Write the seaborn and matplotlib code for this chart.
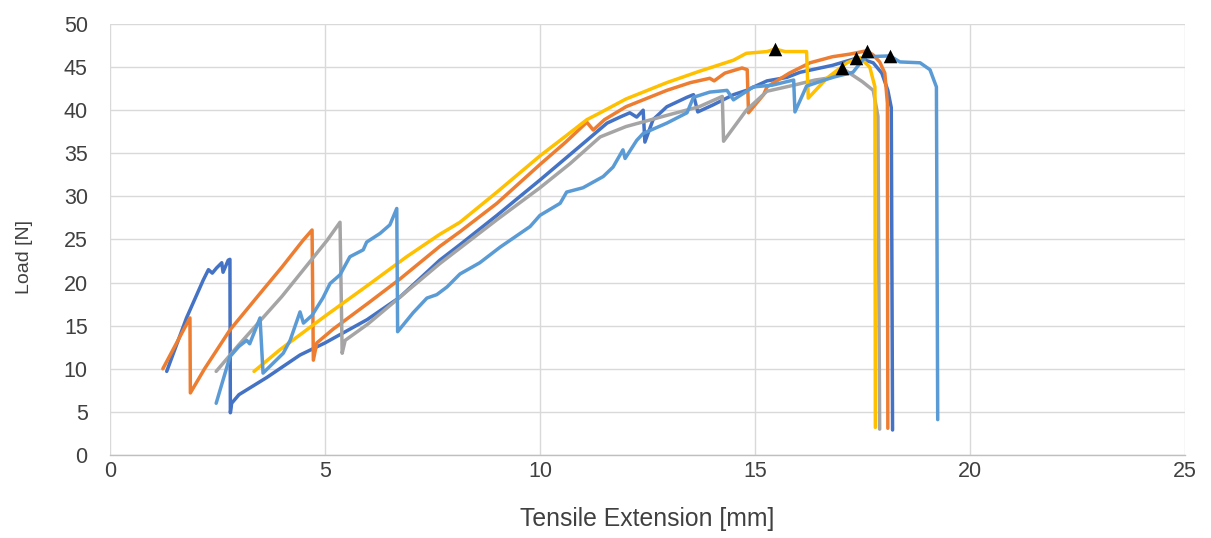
import numpy as np
import pandas as pd
import matplotlib
matplotlib.use("Agg")
import matplotlib.pyplot as plt
import seaborn as sns

# Load-extension curves of five tensile specimens
ext_1 = [1.32, 1.78, 2.17, 2.29, 2.38, 2.48, 2.60, 2.63, 2.75, 2.79, 2.80, 2.83, 3.00, 3.65, 4.42,
         5.00, 5.98, 6.74, 7.67, 8.14, 9.00, 10.00, 11.09, 11.56, 11.86, 12.09, 12.25, 12.40,
         12.44, 12.63, 12.95, 13.42, 13.57, 13.67, 14.02, 14.50, 14.80, 15.28, 15.74, 16.05,
         16.80, 17.34, 17.50, 17.75, 17.95, 18.09, 18.17, 18.20]
load_1 = [9.7, 15.9, 20.3, 21.5, 21.1, 21.7, 22.3, 21.2, 22.6, 22.7, 4.9, 6.0, 7.0, 9.0, 11.6,
          13.0, 15.7, 18.3, 22.6, 24.4, 27.8, 31.9, 36.5, 38.5, 39.2, 39.7, 39.2, 40.0,
          36.3, 38.9, 40.4, 41.5, 41.8, 39.8, 40.6, 41.8, 42.3, 43.4, 43.8, 44.4,
          45.2, 46.0, 45.9, 45.5, 44.3, 42.3, 40.3, 2.9]

ext_2 = [1.23, 1.55, 1.86, 1.87, 2.20, 2.79, 3.50, 4.00, 4.49, 4.70, 4.73, 4.81, 5.19, 6.00,
         6.74, 7.67, 8.14, 9.00, 10.00, 10.60, 11.09, 11.24, 11.50, 12.00, 12.95, 13.50, 13.95,
         14.05, 14.30, 14.70, 14.82, 14.85, 15.20, 15.28, 15.80, 16.28, 16.80, 17.20, 17.60,
         17.75, 17.90, 18.02, 18.08, 18.09]
load_2 = [10.0, 13.0, 15.9, 7.2, 10.0, 14.5, 18.8, 21.8, 24.9, 26.1, 11.0, 13.0, 14.6, 17.6,
          20.4, 24.2, 25.9, 29.2, 33.7, 36.3, 38.6, 37.7, 38.9, 40.4, 42.3, 43.2, 43.7,
          43.4, 44.3, 44.9, 44.7, 39.7, 41.8, 42.7, 44.3, 45.5, 46.2, 46.5, 46.9,
          46.4, 45.6, 44.3, 40.8, 3.1]

ext_3 = [2.47, 3.00, 4.00, 5.05, 5.35, 5.40, 5.47, 6.00, 6.74, 7.67, 8.14, 9.00, 10.00, 10.70,
         11.40, 12.00, 12.95, 13.70, 14.24, 14.27, 14.80, 15.28, 15.90, 16.40, 16.80, 17.03,
         17.20, 17.50, 17.75, 17.86, 17.90]
load_3 = [9.7, 12.8, 18.4, 24.9, 27.0, 11.8, 13.3, 15.2, 18.3, 22.2, 24.0, 27.3, 31.0, 33.8,
          36.9, 38.1, 39.4, 40.4, 41.6, 36.4, 40.0, 42.2, 42.9, 43.5, 43.8, 44.9,
          44.3, 43.3, 42.3, 39.3, 3.0]

ext_4 = [3.35, 3.95, 5.00, 6.00, 6.90, 7.67, 8.14, 9.00, 10.00, 10.60, 11.09, 11.40, 12.00,
         12.95, 13.70, 14.50, 14.80, 15.28, 15.47, 15.70, 16.20, 16.24, 16.67, 17.14, 17.44,
         17.67, 17.79, 17.80]
load_4 = [9.7, 12.2, 16.1, 19.7, 23.0, 25.6, 27.0, 30.5, 34.7, 37.0, 38.9, 39.7, 41.3,
          43.2, 44.5, 45.8, 46.6, 46.8, 47.1, 46.8, 46.8, 41.4, 43.7, 45.5, 46.1,
          45.0, 42.7, 3.2]

ext_5 = [2.47, 2.79, 3.00, 3.18, 3.25, 3.49, 3.56, 4.03, 4.19, 4.42, 4.50, 4.70, 4.95, 5.12,
         5.35, 5.58, 5.89, 5.97, 6.28, 6.51, 6.67, 6.69, 7.05, 7.37, 7.60, 7.84, 8.14, 8.60,
         9.07, 9.77, 10.00, 10.47, 10.62, 11.00, 11.47, 11.70, 11.93, 11.98, 12.25, 12.40,
         12.95, 13.42, 13.57, 13.95, 14.35, 14.50, 14.96, 15.40, 15.90, 15.93, 16.20, 16.80,
         17.28, 17.50, 17.60, 18.14, 18.37, 18.84, 19.07, 19.22, 19.25]
load_5 = [6.0, 11.4, 12.6, 13.3, 12.9, 15.9, 9.5, 11.8, 13.3, 16.6, 15.3, 16.2, 18.2, 19.9,
          20.9, 23.0, 23.8, 24.7, 25.7, 26.7, 28.6, 14.3, 16.5, 18.2, 18.6, 19.5, 21.0, 22.3,
          24.1, 26.5, 27.8, 29.2, 30.5, 31.0, 32.3, 33.4, 35.4, 34.4, 36.5, 37.3,
          38.5, 39.7, 41.5, 42.1, 42.3, 41.2, 42.7, 42.9, 43.5, 39.8, 42.8, 43.8,
          44.4, 45.8, 46.2, 46.3, 45.6, 45.5, 44.7, 42.7, 4.1]

specimens = ["S1", "S2", "S3", "S4", "S5"]
colors = ["#4472C4", "#ED7D31", "#A5A5A5", "#FFC000", "#5B9BD5"]
x_ticks = [0, 5, 10, 15, 20, 25]
y_ticks = [0, 5, 10, 15, 20, 25, 30, 35, 40, 45, 50]

curves = [(ext_1, load_1), (ext_2, load_2), (ext_3, load_3), (ext_4, load_4), (ext_5, load_5)]
frames = []
for name, (ex, ld) in zip(specimens, curves):
    frames.append(pd.DataFrame({"specimen": name, "ext": ex, "load": ld,
                                "step": np.arange(len(ex))}))
df = pd.concat(frames, ignore_index=True)

# maximum-load point of every specimen
peaks = df.loc[df.groupby("specimen", sort=False)["load"].idxmax()]

sns.set_style("white")
plt.rcParams["font.family"] = ["Liberation Sans", "DejaVu Sans"]

fig = plt.figure(figsize=(12.11, 5.38), dpi=100)
ax = fig.add_axes([0.0908, 0.1543, 0.8877, 0.8011])

for name, color in zip(specimens, colors):
    sns.lineplot(data=df[df["specimen"] == name], x="ext", y="load", sort=False,
                 estimator=None, color=color, linewidth=2.5, ax=ax, zorder=3)

sns.scatterplot(data=peaks, x="ext", y="load", marker="^", s=95, color="black",
                edgecolor="black", linewidth=0, ax=ax, zorder=5)

ax.set_xlim(0, 25)
ax.set_ylim(0, 50)
ax.set_xticks(x_ticks)
ax.set_yticks(y_ticks)
ax.grid(True, color="#D9D9D9", linewidth=1.0)
ax.set_axisbelow(True)
for side in ["left", "top", "right"]:
    ax.spines[side].set_visible(False)
ax.spines["bottom"].set_color("#BFBFBF")
ax.spines["bottom"].set_linewidth(1.0)
ax.tick_params(axis="both", length=0, labelsize=15.5, labelcolor="#404040")
ax.tick_params(axis="y", pad=16)
ax.tick_params(axis="x", pad=4)
ax.set_xlabel("Tensile Extension [mm]", fontsize=17.8, color="#404040", labelpad=18)
ax.set_ylabel("Load [N]", fontsize=14, color="#404040")
ax.yaxis.set_label_coords(-0.072, 0.46)

fig.savefig("out.png", dpi=100, facecolor="white")
